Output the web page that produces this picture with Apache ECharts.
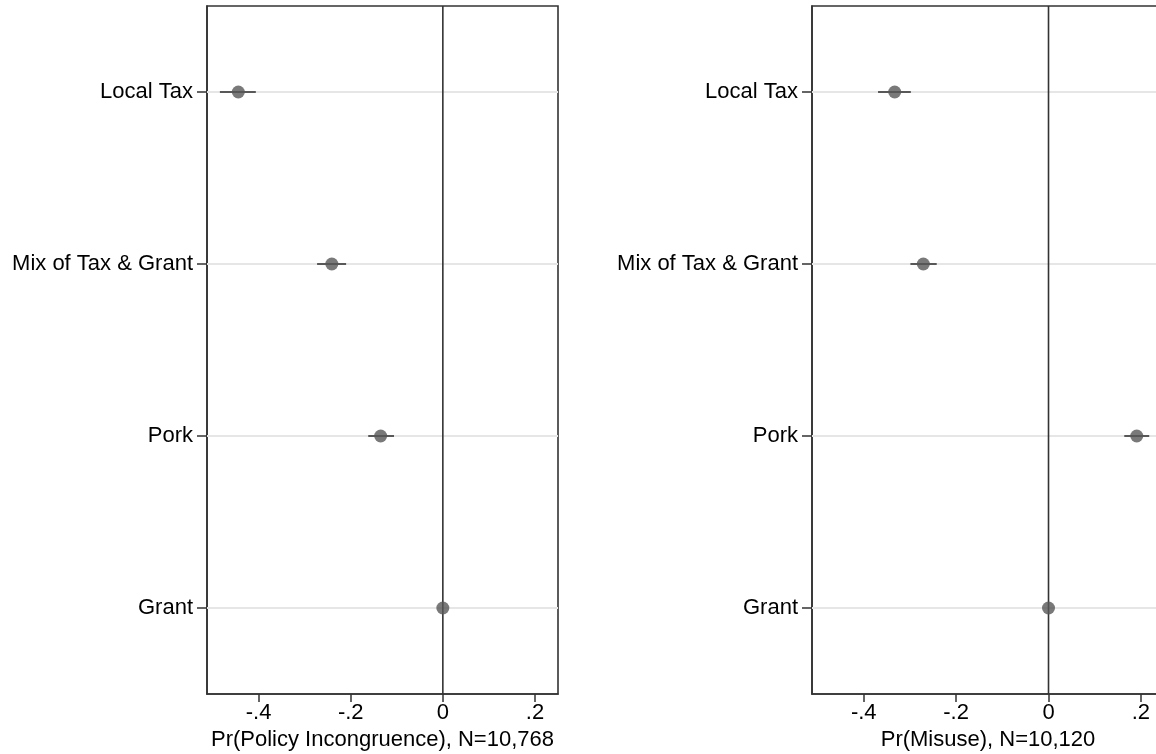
<!DOCTYPE html>
<html>
<head>
<meta charset="utf-8">
<script src="https://cdn.jsdelivr.net/npm/echarts@6/dist/echarts.min.js"></script>
<style>
  html, body { margin: 0; background: #fff; }
  #chart { width: 1156px; height: 754px; }
</style>
</head>
<body>
<div id="chart"></div>
<script>
  // rows, top to bottom
  const categories = ['Local Tax', 'Mix of Tax & Grant', 'Pork', 'Grant'];
  const tickValues = [-0.4, -0.2, 0, 0.2];
  const tickLabels = ['-.4', '-.2', '0', '.2'];

  // left panel: Pr(Policy Incongruence)
  const incongruenceEst = [-0.444, -0.241, -0.135, 0];
  const incongruenceLow = [-0.484, -0.273, -0.162, 0];
  const incongruenceHigh = [-0.406, -0.210, -0.106, 0];

  // right panel: Pr(Misuse)
  const misuseEst = [-0.333, -0.271, 0.191, 0];
  const misuseLow = [-0.369, -0.299, 0.164, 0];
  const misuseHigh = [-0.298, -0.242, 0.218, 0];

  const panelTitles = ['Pr(Policy Incongruence), N=10,768', 'Pr(Misuse), N=10,120'];

  const FONT = '"Liberation Sans", Arial, sans-serif';
  const DARK = '#333333';
  const MARK = '#585858';

  const chart = echarts.init(document.getElementById('chart'), null, { renderer: 'canvas' });

  const gridLines = (params, api) => {
    const cs = params.coordSys;
    const y = api.coord([0, api.value(0)])[1];
    return {
      type: 'line',
      shape: { x1: cs.x, y1: y, x2: cs.x + cs.width, y2: y },
      style: { stroke: '#e6e6e6', lineWidth: 2 }
    };
  };

  const zeroLine = (params, api) => {
    const cs = params.coordSys;
    const x = api.coord([api.value(0), 0])[0];
    return {
      type: 'line',
      shape: { x1: x, y1: cs.y, x2: x, y2: cs.y + cs.height },
      style: { stroke: DARK, lineWidth: 1.6 }
    };
  };

  const ciLine = (params, api) => {
    const a = api.coord([api.value(0), api.value(2)]);
    const b = api.coord([api.value(1), api.value(2)]);
    return {
      type: 'line',
      shape: { x1: a[0], y1: a[1], x2: b[0], y2: b[1] },
      style: { stroke: MARK, lineWidth: 2 }
    };
  };

  function panelSeries(idx, est, low, high) {
    return [
      {
        type: 'custom', xAxisIndex: idx, yAxisIndex: idx, z: 1, silent: true,
        renderItem: gridLines,
        encode: { y: 0 },
        data: categories.map((c, i) => [i])
      },
      {
        type: 'custom', xAxisIndex: idx, yAxisIndex: idx, z: 2, silent: true,
        renderItem: zeroLine,
        encode: { x: 0 },
        data: [[0]]
      },
      {
        type: 'custom', xAxisIndex: idx, yAxisIndex: idx, z: 3, silent: true,
        renderItem: ciLine,
        encode: { x: [0, 1], y: 2 },
        data: categories.map((c, i) => [low[i], high[i], i])
      },
      {
        type: 'scatter', xAxisIndex: idx, yAxisIndex: idx, z: 4,
        symbol: 'circle', symbolSize: 13,
        itemStyle: { color: MARK },
        data: categories.map((c, i) => [est[i], c])
      }
    ];
  }

  function xAxisFor(idx) {
    return {
      type: 'value', gridIndex: idx, min: -0.512, max: 0.25,
      name: panelTitles[idx], nameLocation: 'middle', nameGap: 32,
      nameTextStyle: { fontFamily: FONT, fontSize: 22, color: '#000' },
      axisLine: { show: true, onZero: false, lineStyle: { color: DARK, width: 1.6 } },
      axisTick: { show: true, length: 8, lineStyle: { color: DARK, width: 1.5 }, customValues: tickValues },
      axisLabel: {
        fontFamily: FONT, fontSize: 22, color: '#000', margin: 8,
        customValues: tickValues,
        formatter: v => tickLabels[tickValues.findIndex(t => Math.abs(t - v) < 1e-9)]
      },
      splitLine: { show: false }
    };
  }

  function yAxisFor(idx) {
    return {
      type: 'category', gridIndex: idx, data: categories, inverse: true,
      axisLine: { show: true, onZero: false, lineStyle: { color: DARK, width: 1.6 } },
      axisTick: { show: true, alignWithLabel: true, length: 10, lineStyle: { color: DARK, width: 1.5 } },
      axisLabel: { fontFamily: FONT, fontSize: 22, color: '#000', margin: 14 },
      splitLine: { show: false }
    };
  }

  const option = {
    animation: false,
    backgroundColor: '#fff',
    grid: [
      { left: 207, top: 6, width: 351, height: 688, outerBoundsMode: 'none', containLabel: false,
        show: true, borderColor: DARK, borderWidth: 1.6, backgroundColor: 'transparent' },
      { left: 812, top: 6, width: 352, height: 688, outerBoundsMode: 'none', containLabel: false,
        show: true, borderColor: DARK, borderWidth: 1.6, backgroundColor: 'transparent' }
    ],
    xAxis: [xAxisFor(0), xAxisFor(1)],
    yAxis: [yAxisFor(0), yAxisFor(1)],
    series: [
      ...panelSeries(0, incongruenceEst, incongruenceLow, incongruenceHigh),
      ...panelSeries(1, misuseEst, misuseLow, misuseHigh)
    ]
  };

  chart.setOption(option);
</script>
</body>
</html>
